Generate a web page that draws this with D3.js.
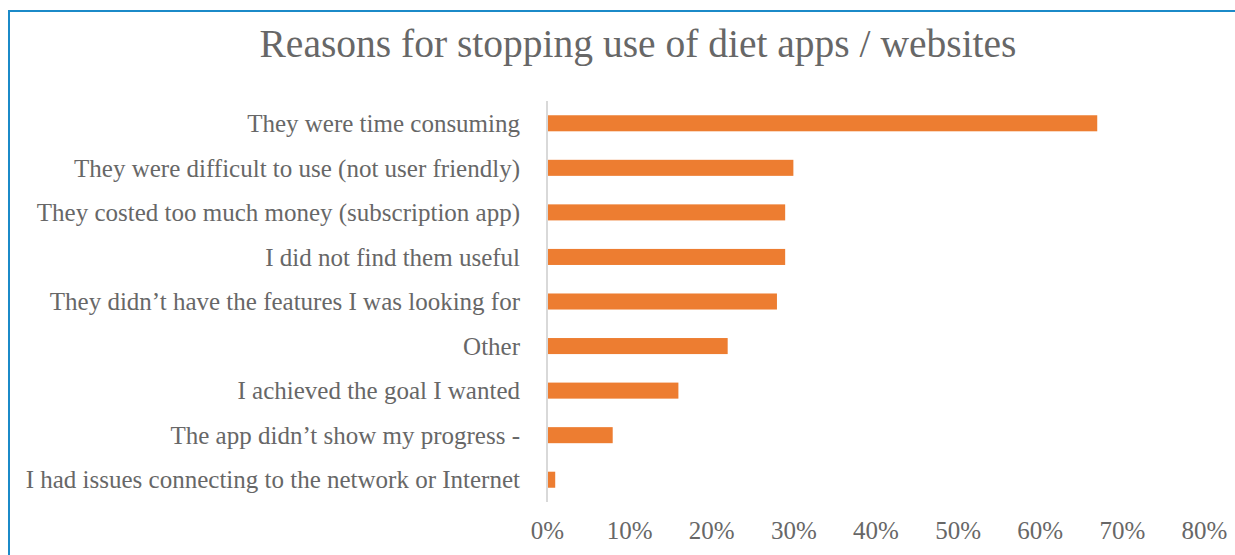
<!DOCTYPE html>
<html>
<head>
<meta charset="utf-8">
<title>Reasons for stopping use of diet apps / websites</title>
<script src="https://cdn.jsdelivr.net/npm/d3@7"></script>
<style>
  body { margin: 0; background: #fff; }
</style>
</head>
<body>
<div id="chart"></div>
<script>
// data
var reasons = [
  "They were time consuming",
  "They were difficult to use (not user friendly)",
  "They costed too much money (subscription app)",
  "I did not find them useful",
  "They didn\u2019t have the features I was looking for",
  "Other",
  "I achieved the goal I wanted",
  "The app didn\u2019t show my progress -",
  "I had issues connecting to the network or Internet"
];
var shares = [0.67, 0.30, 0.29, 0.29, 0.28, 0.22, 0.16, 0.08, 0.01];
var ticks = [0, 0.1, 0.2, 0.3, 0.4, 0.5, 0.6, 0.7, 0.8];

var width = 1235, height = 555;
var serif = "'Liberation Serif', 'Times New Roman', serif";
var grey = '#676767';

var svg = d3.select('#chart')
    .append('svg')
    .attr('width', width)
    .attr('height', height);

// frame: only top and left edges are visible
svg.append('path')
    .attr('d', 'M9,' + height + 'V11H' + width)
    .attr('fill', 'none')
    .attr('stroke', '#1B8AC8')
    .attr('stroke-width', 2);

svg.append('text')
    .attr('x', 638)
    .attr('y', 57)
    .attr('text-anchor', 'middle')
    .style('font-family', serif)
    .style('font-size', '39.5px')
    .style('fill', grey)
    .text('Reasons for stopping use of diet apps / websites');

var x = d3.scaleLinear().domain([0, 0.8]).range([547, 1204]);
var y = d3.scaleBand().domain(reasons).range([101, 502]).paddingInner(0.64).paddingOuter(0.32);

// bars
svg.selectAll('.bar')
    .data(reasons)
    .enter()
    .append('rect')
    .attr('class', 'bar')
    .attr('x', x(0))
    .attr('y', d => y(d))
    .attr('width', (d, i) => x(shares[i]) - x(0))
    .attr('height', y.bandwidth())
    .attr('fill', '#ED7D31');

// vertical axis line
svg.append('line')
    .attr('x1', x(0)).attr('x2', x(0))
    .attr('y1', 101).attr('y2', 502)
    .attr('stroke', '#D9D9D9')
    .attr('stroke-width', 2);

// category labels
svg.selectAll('.cat')
    .data(reasons)
    .enter()
    .append('text')
    .attr('class', 'cat')
    .attr('x', 520)
    .attr('y', d => y(d) + y.bandwidth() / 2)
    .attr('dy', '0.35em')
    .attr('text-anchor', 'end')
    .style('font-family', serif)
    .style('font-size', '25px')
    .style('fill', grey)
    .text(d => d);

// x tick labels
var xAxis = d3.axisBottom(x)
    .tickValues(ticks)
    .tickFormat(d3.format('.0%'))
    .tickSize(0)
    .tickPadding(0);

var gx = svg.append('g')
    .attr('transform', 'translate(0,521)')
    .call(xAxis);
gx.select('.domain').remove();
gx.selectAll('text')
    .style('font-family', serif)
    .style('font-size', '25px')
    .style('fill', grey)
    .attr('dy', '0.71em');
</script>
</body>
</html>
